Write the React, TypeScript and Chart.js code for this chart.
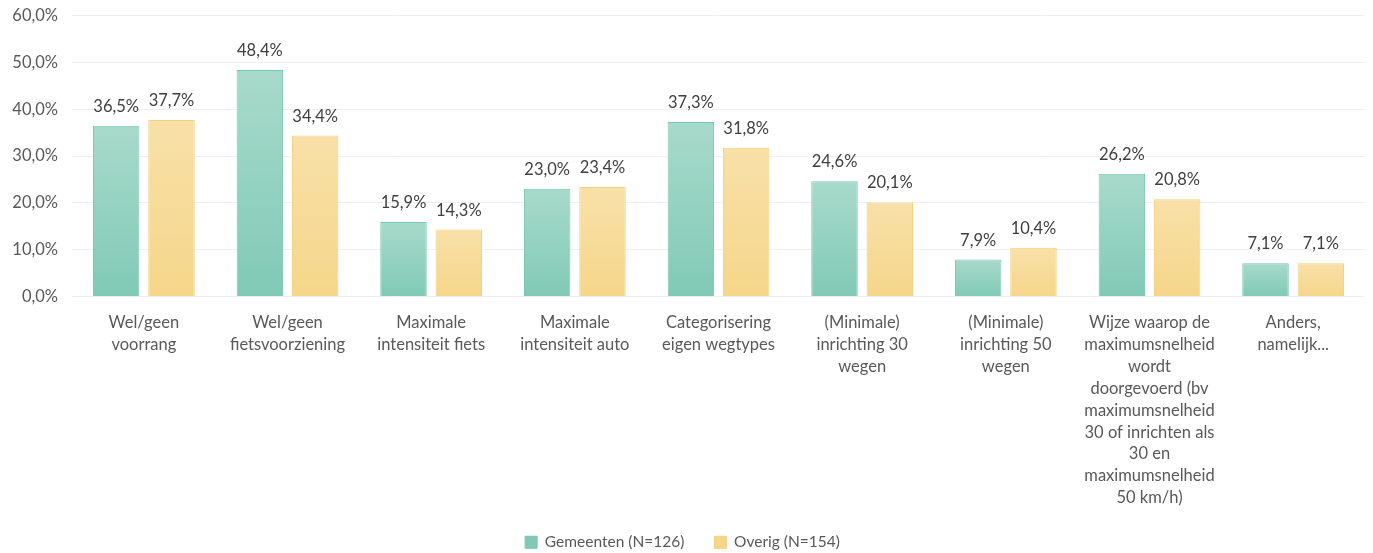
import React, { useEffect, useRef } from "react";
import { Chart, registerables } from "chart.js";
Chart.register(...registerables);

const categories: string[][] = [
  ["Wel/geen", "voorrang"],
  ["Wel/geen", "fietsvoorziening"],
  ["Maximale", "intensiteit fiets"],
  ["Maximale", "intensiteit auto"],
  ["Categorisering", "eigen wegtypes"],
  ["(Minimale)", "inrichting 30", "wegen"],
  ["(Minimale)", "inrichting 50", "wegen"],
  ["Wijze waarop de", "maximumsnelheid", "wordt", "doorgevoerd (bv", "maximumsnelheid", "30 of inrichten als", "30 en", "maximumsnelheid", "50 km/h)"],
  ["Anders,", "namelijk..."],
];
const gemeenten: number[] = [36.5, 48.4, 15.9, 23.0, 37.3, 24.6, 7.9, 26.2, 7.1];
const overig: number[] = [37.7, 34.4, 14.3, 23.4, 31.8, 20.1, 10.4, 20.8, 7.1];
const seriesNames: string[] = ["Gemeenten (N=126)", "Overig (N=154)"];

const FONT = "Lato, 'Open Sans', sans-serif";
const fmt = (v: number) => v.toFixed(1).replace(".", ",") + "%";

function grad(top: string, bottom: string) {
  return (ctx: any) => {
    const chart = ctx.chart;
    const y = chart.scales?.y;
    const area = chart.chartArea;
    if (!y || !area || ctx.type !== "data") return bottom;
    const v = ctx.raw as number;
    const yTop = y.getPixelForValue(v);
    const yBot = y.getPixelForValue(0);
    if (!isFinite(yTop) || !isFinite(yBot) || yTop === yBot) return bottom;
    const g = chart.ctx.createLinearGradient(0, yTop, 0, yBot);
    g.addColorStop(0, top);
    g.addColorStop(1, bottom);
    return g;
  };
}

const valueLabels = {
  id: "valueLabels",
  afterLayout(chart: any) {
    // let long category labels run past the axis box instead of being clipped
    if (chart.scales.x) chart.scales.x._computeLabelArea = () => undefined;
  },
  afterDatasetsDraw(chart: any) {
    const { ctx } = chart;
    ctx.save();
    ctx.font = `16.5px ${FONT}`;
    ctx.fillStyle = "#404040";
    ctx.textAlign = "center";
    ctx.textBaseline = "bottom";
    chart.data.datasets.forEach((ds: any, di: number) => {
      const meta = chart.getDatasetMeta(di);
      meta.data.forEach((el: any, i: number) => {
        ctx.fillText(fmt(ds.data[i]), el.x, el.y - 11);
      });
    });
    ctx.restore();
  },
};

export default function App() {
  const ref = useRef<HTMLCanvasElement>(null);
  useEffect(() => {
    if (!ref.current) return;
    const chart = new Chart(ref.current, {
      type: "bar",
      data: {
        labels: categories,
        datasets: [
          {
            label: seriesNames[0],
            data: gemeenten,
            backgroundColor: grad("#a8dacb", "#80cab5"),
            borderColor: "#78c6af",
            borderWidth: 1,
            categoryPercentage: 0.77,
            barPercentage: 0.84,
          },
          {
            label: seriesNames[1],
            data: overig,
            backgroundColor: grad("#f8e0a8", "#f5d68a"),
            borderColor: "#f2d17d",
            borderWidth: 1,
            categoryPercentage: 0.77,
            barPercentage: 0.84,
          },
        ],
      },
      options: {
        animation: false,
        responsive: true,
        maintainAspectRatio: false,
        layout: { padding: { top: 12, right: 8, left: 0, bottom: -7 } },
        plugins: {
          legend: {
            position: "bottom",
            labels: {
              boxWidth: 12,
              boxHeight: 12,
              padding: 30,
              color: "#595959",
              font: { family: FONT, size: 15.5 },
            },
          },
          tooltip: { enabled: false },
        },
        scales: {
          x: {
            grid: { display: false },
            border: { display: false },
            ticks: {
              color: "#595959",
              font: { family: FONT, size: 16.5, lineHeight: 1.33 },
              maxRotation: 0,
              autoSkip: false,
              padding: 7,
            },
            afterFit: (s: any) => {
              s.height = 208;
            },
          },
          y: {
            min: 0,
            max: 60,
            ticks: {
              stepSize: 10,
              color: "#595959",
              font: { family: FONT, size: 16.5, lineHeight: 0.2 },
              callback: (v: any) => fmt(Number(v)),
              padding: 14,
            },
            grid: { color: "#edeff3", drawTicks: false },
            border: { display: false },
            afterFit: (s: any) => {
              s.width = 72;
            },
          },
        },
      },
      plugins: [valueLabels],
    });
    return () => chart.destroy();
  }, []);
  return (
    <div style={{ position: "fixed", left: 0, top: 0, width: 1373, height: 553, background: "#fff" }}>
      <canvas ref={ref} />
    </div>
  );
}
